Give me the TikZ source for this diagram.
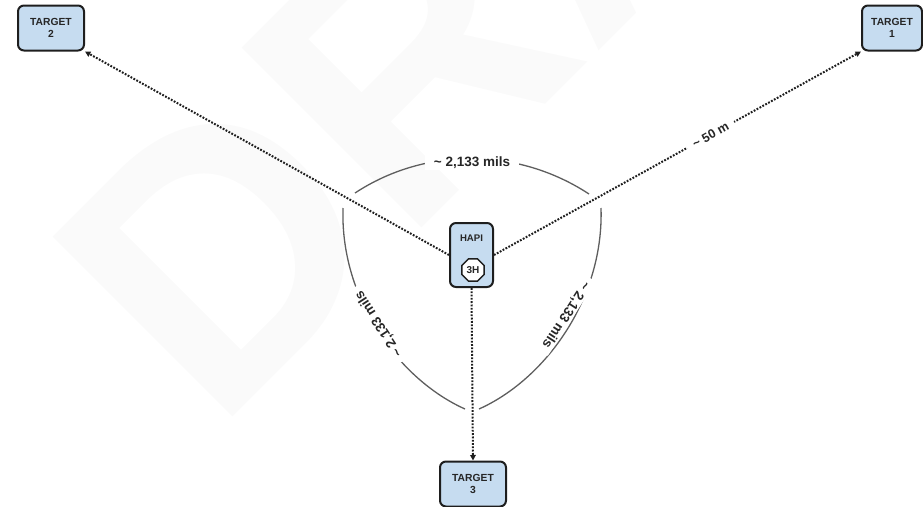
\documentclass[tikz,border=0pt]{standalone}
\usepackage{fontspec}
\setmainfont{Liberation Sans}
\usetikzlibrary{arrows.meta,shapes.geometric}
\definecolor{boxfill}{HTML}{C6DCF0}
\definecolor{boxline}{HTML}{1E1E1E}
\definecolor{arcgray}{HTML}{5E5E5E}
\definecolor{txt}{HTML}{262626}
\definecolor{wmark}{HTML}{FAFAFA}
\definecolor{wmarkline}{HTML}{F2F2F2}
\begin{document}
\begin{tikzpicture}[x=1pt,y=-1pt,
  target/.style={draw=boxline, fill=boxfill, line width=2pt, rounded corners=6pt,
    minimum width=66pt, minimum height=45pt, align=center, text=txt, inner sep=0pt,
    font=\bfseries\fontsize{10.3}{11.6}\selectfont},
  hapibox/.style={draw=boxline, fill=boxfill, line width=2pt, rounded corners=6pt,
    minimum width=43pt, minimum height=64pt, inner sep=0pt},
  conn/.style={draw=boxline, line width=2pt, line cap=butt, dash pattern=on 1.8pt off 1.5pt,
    -{Triangle[length=5.5pt,width=5.5pt]}},
  arcline/.style={draw=arcgray, line width=1.3pt},
  lbl/.style={font=\bfseries\fontsize{13.5}{14}\selectfont, text=txt, fill=white,
    inner ysep=1pt, inner xsep=6pt}
]
\useasboundingbox (0,0) rectangle (923,506);

% faint watermark
\node[anchor=base west, rotate=45, text=wmark, inner sep=0pt,
  font=\bfseries\fontsize{370}{370}\selectfont] (wm) at (215,435) {DRAFT};

% nodes
\node[target] (t2) at (51,28) {TARGET\\2};
\node[target, minimum width=60pt] (t1) at (892,28) {TARGET\\1};
\node[target] (t3) at (473,484) {TARGET\\3};
\node[hapibox] (hapi) at (471.5,255) {};
\node[text=txt, font=\bfseries\fontsize{9.6}{10}\selectfont, inner sep=0pt] (hapilbl) at (471.5,238) {HAPI};
\node[regular polygon, regular polygon sides=8, minimum size=24pt, draw=boxline, fill=white,
  line width=1.5pt, inner sep=0pt, text=txt, font=\bfseries\fontsize{10}{10}\selectfont] (hh) at (473,270) {3H};

% arcs
\draw[arcline] (355,193) .. controls (426,146.4) and (518,147.4) .. (589,194);
\draw[arcline] (343,208) .. controls (340,300) and (400,380) .. (465,409);
\draw[arcline] (601,208) .. controls (604,300) and (544,380) .. (479,409);
\node[lbl, inner xsep=9pt] (ltop) at (472,163) {\textasciitilde{} 2,133 mils};
\node[lbl, rotate=123] (lleft) at (379,324) {\textasciitilde{} 2,133 mils};
\node[lbl, rotate=-123] (lright) at (566,315) {\textasciitilde{} 2,133 mils};

% connectors
\draw[conn] (hapi.west) -- (t2.south east);
\draw[conn] (hapi.east) -- (t1.south west)
  node[pos=0.59, sloped, fill=white, text=txt, inner xsep=7pt, inner ysep=1pt,
       font=\bfseries\fontsize{12.6}{13}\selectfont] (ldist) {\textasciitilde{} 50 m};
\draw[conn] (hapi.south) -- (t3.north);
\end{tikzpicture}
\end{document}
